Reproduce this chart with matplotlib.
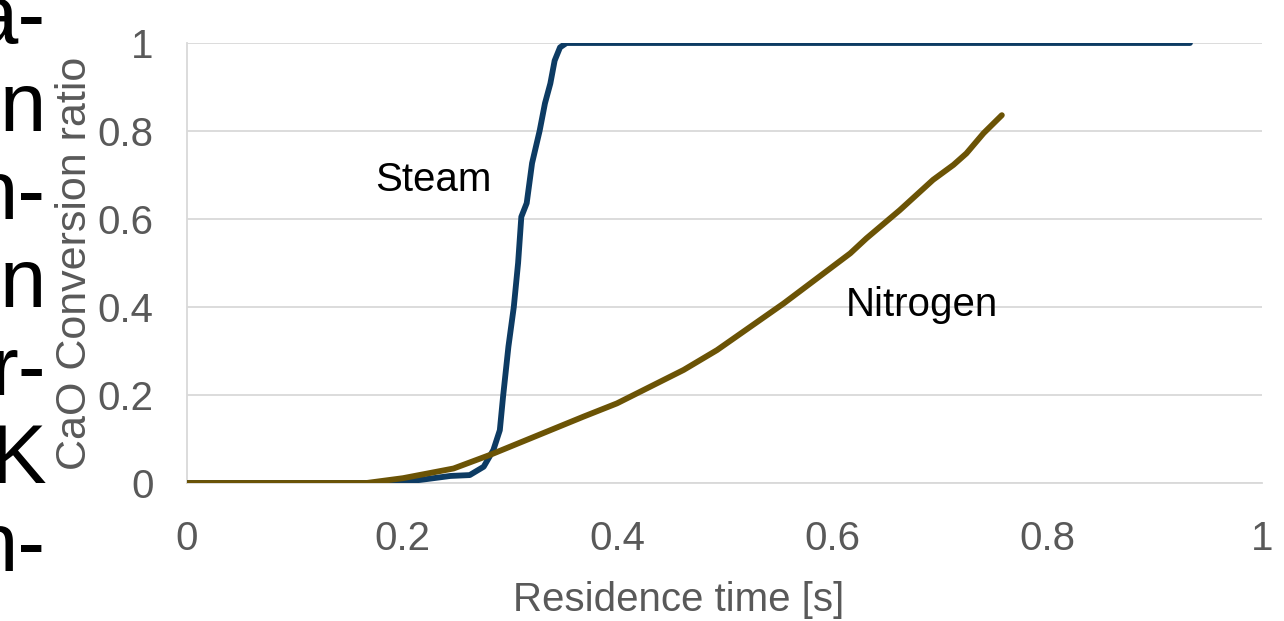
import matplotlib
matplotlib.use('Agg')
import matplotlib.pyplot as plt

# residence time [s] vs CaO conversion ratio
steam_t = [0, 0.17, 0.189, 0.217, 0.245, 0.263, 0.276, 0.285, 0.291, 0.294, 0.299,
           0.304, 0.308, 0.311, 0.316, 0.321, 0.328, 0.333, 0.338, 0.342, 0.347,
           0.353, 0.933]
steam_x = [0, 0, 0, 0.007, 0.016, 0.018, 0.037, 0.075, 0.12, 0.196, 0.31,
           0.40, 0.50, 0.605, 0.636, 0.727, 0.80, 0.863, 0.908, 0.96, 0.99,
           1.0, 1.0]

nitrogen_t = [0, 0.167, 0.201, 0.248, 0.282, 0.338, 0.369, 0.40, 0.431, 0.462,
              0.493, 0.524, 0.555, 0.586, 0.617, 0.632, 0.663, 0.694, 0.713,
              0.725, 0.741, 0.758]
nitrogen_x = [0, 0, 0.011, 0.033, 0.064, 0.12, 0.151, 0.181, 0.219, 0.257,
              0.302, 0.355, 0.408, 0.465, 0.522, 0.556, 0.620, 0.689, 0.723,
              0.749, 0.795, 0.836]

ticks = [0, 0.2, 0.4, 0.6, 0.8, 1]
tick_labels = ['0', '0.2', '0.4', '0.6', '0.8', '1']

# clipped body text at the left edge of the screenshot
side_text = ['a-', 'n', 'n-', 'n', 'r-', 'K', 'n-']

plt.rcParams['font.family'] = ['Liberation Sans', 'DejaVu Sans']
fs = 29

fig = plt.figure(figsize=(12.84, 6.21), dpi=100)
ax = fig.add_axes([187/1284, 1-483/621, (1262-187)/1284, 440/621])

grey = '#595959'
gridc = '#d9d9d9'

ax.plot(steam_t, steam_x, color='#0d3b63', lw=4.2, solid_capstyle='round', zorder=3)
ax.plot(nitrogen_t, nitrogen_x, color='#6b5305', lw=4.2, solid_capstyle='round', zorder=4)

ax.set_xlim(0, 1)
ax.set_ylim(0, 1)
ax.set_xticks(ticks)
ax.set_xticklabels(tick_labels, fontsize=fs)
ax.set_yticks(ticks)
ax.set_yticklabels(tick_labels, fontsize=fs)
ax.grid(axis='y', color=gridc, lw=1.3)
ax.set_axisbelow(True)
ax.tick_params(length=0, colors=grey)
ax.tick_params(axis='x', pad=27)
ax.tick_params(axis='y', pad=24)
for s in ['top', 'right']:
    ax.spines[s].set_visible(False)
for s in ['left', 'bottom']:
    ax.spines[s].set_color(gridc)
    ax.spines[s].set_linewidth(1.3)

ax.set_xlabel('Residence time [s]', fontsize=fs, color=grey, va='center')
ax.xaxis.set_label_coords(0.4577, -0.266)
ax.set_ylabel('CaO Conversion ratio', fontsize=31, color=grey, va='center')
ax.yaxis.set_label_coords(-0.104, 0.5)

ax.text(0.229, 0.689, 'Steam', fontsize=fs, ha='center', va='center')
ax.text(0.684, 0.405, 'Nitrogen', fontsize=fs, ha='center', va='center')

for i, s in enumerate(side_text):
    fig.text(46/1284, 1-(43 + 88*i)/621, s, fontsize=60, ha='right', va='baseline')

fig.savefig('out.png', dpi=100)
